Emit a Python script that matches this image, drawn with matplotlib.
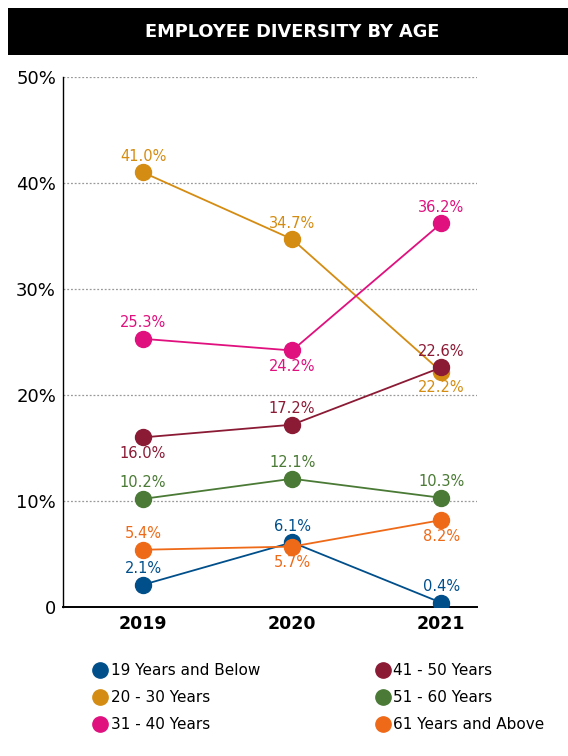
import matplotlib
matplotlib.use('Agg')
import matplotlib.pyplot as plt
from matplotlib.lines import Line2D
from matplotlib.patches import Rectangle

plt.rcParams['font.family'] = ['DejaVu Sans']

# Data
years = ['2019', '2020', '2021']
groups = ['19 Years and Below', '20 - 30 Years', '31 - 40 Years',
          '41 - 50 Years', '51 - 60 Years', '61 Years and Above']
values = [
    [2.1, 6.1, 0.4],
    [41.0, 34.7, 22.2],
    [25.3, 24.2, 36.2],
    [16.0, 17.2, 22.6],
    [10.2, 12.1, 10.3],
    [5.4, 5.7, 8.2],
]
colors = ['#004f8b', '#d48c12', '#e0107e', '#8b1a35', '#4a7a35', '#ee6a18']
# +1 label above the point, -1 below
label_side = [
    [1, 1, 1],
    [1, 1, -1],
    [1, -1, 1],
    [-1, 1, 1],
    [1, 1, 1],
    [1, -1, -1],
]

fig = plt.figure(figsize=(5.68, 7.56), dpi=100)

# black title bar
fig.patches.append(Rectangle((0.014, 0.9272), 0.986, 0.0622, transform=fig.transFigure,
                             facecolor='black', edgecolor='none'))
fig.text(0.514, 0.958, 'EMPLOYEE DIVERSITY BY AGE', color='white', fontsize=12.8,
         fontweight='bold', ha='center', va='center')

ax = fig.add_axes([0.1109, 0.1971, 0.729, 0.701])
x = list(range(len(years)))

for vals, c, sides in zip(values, colors, label_side):
    ax.plot(x, vals, color=c, linewidth=1.3, marker='o', markersize=11.5, zorder=3)
    for xi, v, s in zip(x, vals, sides):
        ax.annotate(f'{v:.1f}%', (xi, v), xytext=(0, 11.5 * s), textcoords='offset points',
                    ha='center', va='center', color=c, fontsize=10.5)

ax.set_xlim(-0.537, 2.24)
ax.set_ylim(0, 50)
ax.set_yticks([0, 10, 20, 30, 40, 50])
ax.set_yticklabels(['0', '10%', '20%', '30%', '40%', '50%'], fontsize=13)
ax.set_xticks(x)
ax.set_xticklabels(years, fontsize=12.5, fontweight='bold')
ax.tick_params(axis='y', length=0, pad=5)
ax.tick_params(axis='x', length=0, pad=6)

ax.grid(axis='y', color='#999999', linestyle=(0, (1.5, 1.5)), linewidth=0.9)
ax.set_axisbelow(True)
ax.spines['top'].set_visible(False)
ax.spines['right'].set_visible(False)
ax.spines['left'].set_linewidth(1.0)
ax.spines['bottom'].set_linewidth(1.4)

handles = [Line2D([], [], linestyle='none', marker='o', markersize=11,
                  markerfacecolor=c, markeredgecolor=c) for c in colors]
fig.legend(handles, groups, ncol=2, loc='upper left', bbox_to_anchor=(0.155, 0.131),
           frameon=False, fontsize=11, handlelength=0.8, handletextpad=0.3,
           columnspacing=7.6, labelspacing=0.78, borderaxespad=0)

fig.savefig('out.png', dpi=100)
